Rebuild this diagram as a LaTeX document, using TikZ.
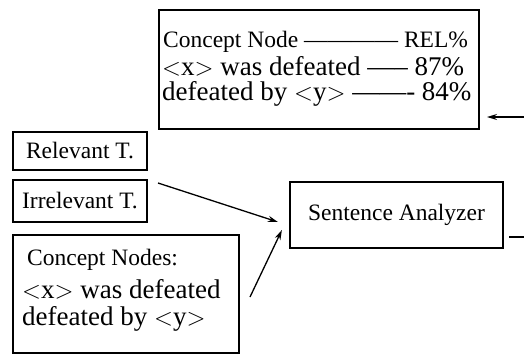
\documentclass[tikz,border=0pt]{standalone}
\usepackage{fontspec}
\setmainfont{Liberation Serif}
\usetikzlibrary{arrows.meta}
\usetikzlibrary{positioning}

\begin{document}
\begin{tikzpicture}[x=1pt,y=-1pt,
    box/.style={draw,line width=2.2pt,inner sep=0pt},
    smalltext/.style={font=\fontsize{23.5}{27}\selectfont,inner sep=0pt},
    bigtext/.style={font=\fontsize{27}{32}\selectfont,inner sep=0pt},
    feed/.style={-{Stealth[length=10pt,width=6pt]},line width=1.3pt}]
  \useasboundingbox (0,0) rectangle (524,356);
  % relevance table
  \node[box,minimum width=320pt,minimum height=119pt] (table) at (319,69.5) {};
  \node[smalltext,anchor=base west] (thead) at (163,47) {Concept Node ———— REL\%};
  \node[bigtext,anchor=base west] (trowa) at (162,75) {$<$x$>$ was defeated —– 87\%};
  \node[bigtext,anchor=base west] (trowb) at (162,100) {defeated by $<$y$>$ ——- 84\%};
  % training texts
  \node[box,smalltext,minimum width=134pt,minimum height=38pt] (rel) at (80,151) {Relevant T.};
  \node[box,smalltext,minimum width=134pt,minimum height=42pt] (irrel) at (80,201) {Irrelevant T.};
  % concept nodes
  \node[box,minimum width=226pt,minimum height=118pt] (cnodes) at (126,294) {};
  \node[smalltext,anchor=base west] (chead) at (27,265) {Concept Nodes:};
  \node[bigtext,anchor=base west] (crowa) at (22,298) {$<$x$>$ was defeated};
  \node[bigtext,anchor=base west] (crowb) at (22,325) {defeated by $<$y$>$};
  % analyzer
  \node[box,smalltext,minimum width=213pt,minimum height=66pt] (analyzer) at (396.5,215) {Sentence Analyzer};
  % arrows
  \coordinate (textsout) at (158,183);
  \coordinate (nodesout) at (250,297);
  \coordinate (fromright) at (524,117);
  \coordinate (tablein) at (487,117);
  \coordinate (anout) at (509,237);
  \coordinate (toright) at (524,237);
  \draw[feed] (textsout) -- ([shift={(-11,7)}]analyzer.west);
  \draw[feed] (nodesout) -- ([shift={(-7,15)}]analyzer.west);
  \draw[feed] (fromright) -- (tablein);
  \draw[line width=2pt] (anout) -- (toright);
\end{tikzpicture}
\end{document}
